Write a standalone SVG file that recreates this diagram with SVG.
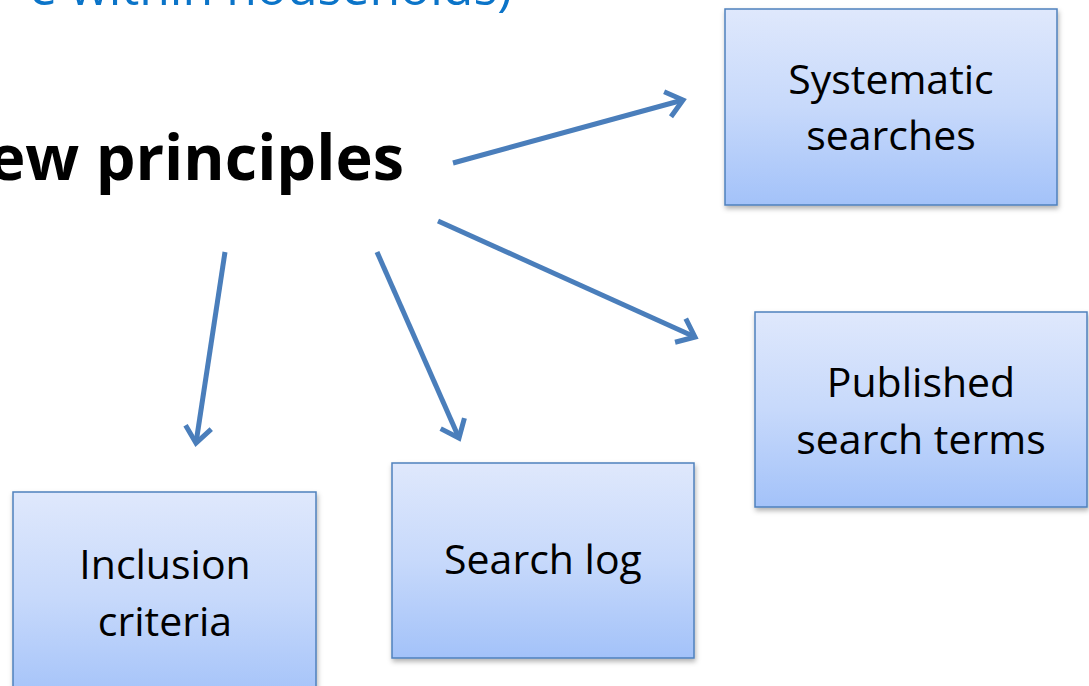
<svg xmlns="http://www.w3.org/2000/svg" width="1089" height="686" viewBox="0 0 1089 686">
  <style>
    .box { fill: url(#boxFill); stroke: #4F81BD; stroke-width: 1.5; filter: url(#shadow); }
    .label { font-family: "Open Sans", "Liberation Sans", sans-serif; font-size: 41px; fill: #000; text-anchor: middle; }
    .title { font-family: "Open Sans", "Liberation Sans", sans-serif; font-weight: bold; font-size: 63px; fill: #000; text-anchor: end; }
    .subtitle { font-family: "Open Sans", "Liberation Sans", sans-serif; font-size: 50px; fill: #0B74C8; text-anchor: end; }
    .conn { stroke: #4A7EBB; stroke-width: 5; fill: none; marker-end: url(#chevron); }
  </style>
  <defs>
    <linearGradient id="boxFill" x1="0" y1="0" x2="0" y2="1">
      <stop offset="0" stop-color="#DFE8FC"/>
      <stop offset="0.5" stop-color="#C7D9FB"/>
      <stop offset="1" stop-color="#A3C2F9"/>
    </linearGradient>
    <filter id="shadow" x="-10%" y="-10%" width="125%" height="130%">
      <feDropShadow dx="1" dy="3" stdDeviation="2.5" flood-color="#000" flood-opacity="0.3"/>
    </filter>
    <marker id="chevron" markerUnits="userSpaceOnUse" viewBox="-26 -18 32 36" markerWidth="32" markerHeight="36" refX="0" refY="0" orient="auto" overflow="visible">
      <path d="M-16,-13 L0,0 L-16,13" fill="none" stroke="#4A7EBB" stroke-width="5" stroke-linejoin="miter"/>
    </marker>
  </defs>

  <!-- heading text, partly off the canvas edges -->
  <text class="subtitle" x="512" y="5">e within households)</text>
  <text class="title" x="404" y="180">ew principles</text>

  <!-- connectors -->
  <g id="connectors">
    <line class="conn" x1="453" y1="163" x2="683" y2="100"/>
    <line class="conn" x1="438" y1="221" x2="695" y2="337"/>
    <line class="conn" x1="225" y1="252" x2="196" y2="443"/>
    <line class="conn" x1="377" y1="252" x2="459" y2="438"/>
  </g>

  <!-- nodes -->
  <g id="systematic-searches">
    <rect class="box" x="725" y="9" width="332" height="196"/>
    <text class="label" x="891" y="94">Systematic</text>
    <text class="label" x="891" y="150">searches</text>
  </g>
  <g id="published-search-terms">
    <rect class="box" x="755" y="312" width="332" height="195"/>
    <text class="label" x="921" y="397">Published</text>
    <text class="label" x="921" y="454">search terms</text>
  </g>
  <g id="inclusion-criteria">
    <rect class="box" x="13" y="492" width="303" height="210"/>
    <text class="label" x="165" y="579">Inclusion</text>
    <text class="label" x="165" y="636">criteria</text>
  </g>
  <g id="search-log">
    <rect class="box" x="392" y="463" width="302" height="195"/>
    <text class="label" x="543" y="574">Search log</text>
  </g>
</svg>
